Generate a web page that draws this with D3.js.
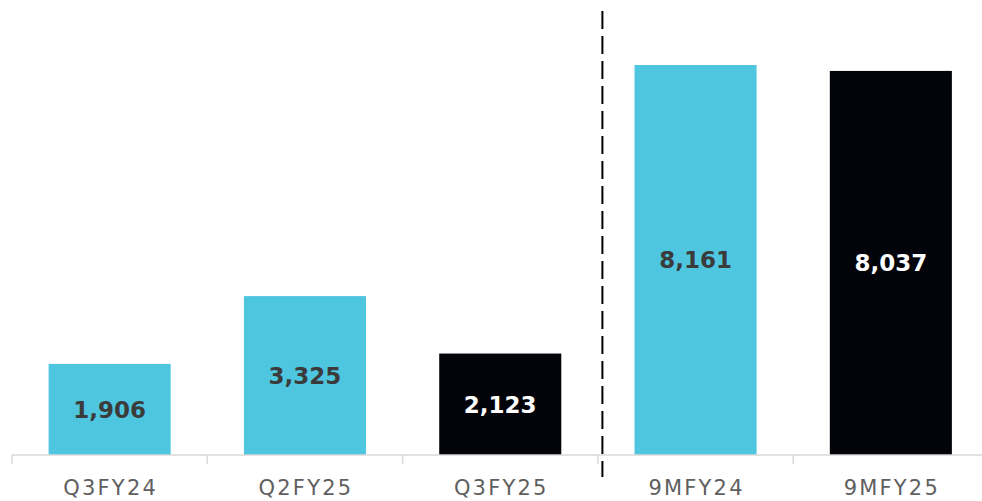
<!DOCTYPE html>
<html>
<head>
<meta charset="utf-8">
<script src="https://cdn.jsdelivr.net/npm/d3@7"></script>
<style>
  html, body { margin: 0; padding: 0; background: #fff; }
  svg { display: block; }
</style>
</head>
<body>
<div id="chart"></div>
<script>
const categories = ['Q3FY24', 'Q2FY25', 'Q3FY25', '9MFY24', '9MFY25']
const values = [1906, 3325, 2123, 8161, 8037]
const barColors = ['#4FC6E0', '#4FC6E0', '#03030A', '#4FC6E0', '#03030A']
const labelColors = ['#3b3b3b', '#3b3b3b', '#ffffff', '#3b3b3b', '#ffffff']

const width = 982
const height = 501
const margin = { left: 12, right: -6.5, baseline: 455 }

const svg = d3.select('#chart')
  .append('svg')
  .attr('width', width)
  .attr('height', height)

// Band scale over five categories
const x = d3.scaleBand()
  .domain(categories)
  .range([margin.left, width - margin.right])
  .paddingInner(0.375)
  .paddingOuter(0.1875)

const y = d3.scaleLinear()
  .domain([0, 8161])
  .range([margin.baseline, 65])

// Bars
svg.append('g')
  .selectAll('rect')
  .data(values)
  .join('rect')
  .attr('x', (d, i) => x(categories[i]))
  .attr('y', d => y(d))
  .attr('width', x.bandwidth())
  .attr('height', d => y(0) - y(d))
  .attr('fill', (d, i) => barColors[i])

// Value labels
svg.append('g')
  .selectAll('text')
  .data(values)
  .join('text')
  .attr('x', (d, i) => x(categories[i]) + x.bandwidth() / 2)
  .attr('y', d => (y(d) + y(0)) / 2)
  .attr('dy', '0.36em')
  .attr('text-anchor', 'middle')
  .attr('font-family', 'DejaVu Sans, sans-serif')
  .attr('font-weight', 700)
  .attr('font-size', '23px')
  .attr('fill', (d, i) => labelColors[i])
  .text(d => d3.format(',')(d))

// Category axis
const step = x.step()
const axis = svg.append('g')
axis.append('line')
  .attr('x1', margin.left)
  .attr('x2', width)
  .attr('y1', margin.baseline)
  .attr('y2', margin.baseline)
  .attr('stroke', '#d9d9d9')
  .attr('stroke-width', 1.5)

axis.selectAll('line.tick')
  .data(d3.range(categories.length + 1))
  .join('line')
  .attr('class', 'tick')
  .attr('x1', i => x(categories[0]) - x.paddingOuter() * step + i * step)
  .attr('x2', i => x(categories[0]) - x.paddingOuter() * step + i * step)
  .attr('y1', margin.baseline)
  .attr('y2', margin.baseline + 9)
  .attr('stroke', '#d9d9d9')
  .attr('stroke-width', 1.5)

axis.selectAll('text')
  .data(categories)
  .join('text')
  .attr('x', d => x(d) + x.bandwidth() / 2 + 1)
  .attr('y', 495)
  .attr('text-anchor', 'middle')
  .attr('font-family', 'DejaVu Sans, sans-serif')
  .attr('font-weight', 400)
  .attr('font-size', '21px')
  .attr('letter-spacing', '2.2px')
  .attr('fill', '#5f5f5f')
  .text(d => d)

// Dashed divider between quarterly and nine-month bars
const divX = (x('Q3FY25') + x.bandwidth() + x('9MFY24')) / 2 + 4.5
svg.append('line')
  .attr('x1', divX)
  .attr('x2', divX)
  .attr('y1', 11)
  .attr('y2', 477)
  .attr('stroke', '#000')
  .attr('stroke-width', 2)
  .attr('stroke-dasharray', '18,7')
</script>
</body>
</html>
